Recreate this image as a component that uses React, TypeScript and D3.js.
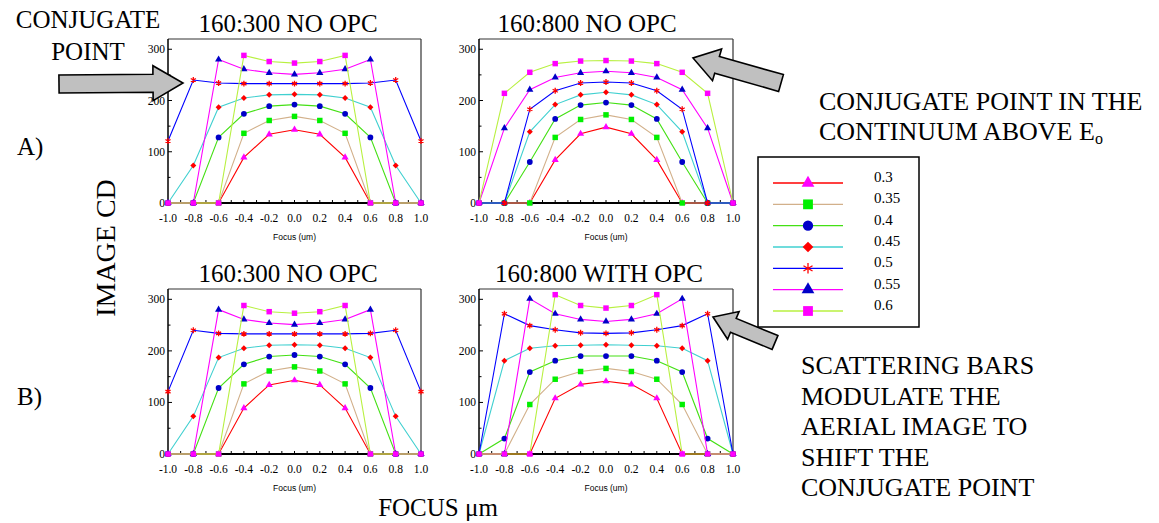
import React from "react";
import * as d3 from "d3";

// ---------- data ----------
const FOCUS = [-1.0, -0.8, -0.6, -0.4, -0.2, 0.0, 0.2, 0.4, 0.6, 0.8, 1.0];
const SERIES_LABELS = ["0.3", "0.35", "0.4", "0.45", "0.5", "0.55", "0.6"];
const X_TICK_LABELS = ["-1.0", "-0.8", "-0.6", "-0.4", "-0.2", "0.0", "0.2", "0.4", "0.6", "0.8", "1.0"];
const Y_TICKS = [0, 100, 200, 300];

// 160:300 NO OPC
const p300_03 = [0, 0, 0, 89, 134, 143, 134, 89, 0, 0, 0];
const p300_035 = [0, 0, 0, 136, 161, 169, 161, 136, 0, 0, 0];
const p300_04 = [0, 0, 128, 174, 189, 192, 189, 174, 128, 0, 0];
const p300_045 = [0, 73, 187, 205, 211, 212, 211, 205, 187, 73, 0];
const p300_05 = [121, 240, 234, 233, 233, 233, 233, 233, 234, 240, 121];
const p300_055 = [0, 0, 280, 261, 254, 251, 254, 261, 280, 0, 0];
const p300_06 = [0, 0, 0, 288, 276, 273, 276, 288, 0, 0, 0];

// 160:800 NO OPC
const p800_03 = [0, 0, 0, 84, 135, 148, 135, 84, 0, 0, 0];
const p800_035 = [0, 0, 0, 128, 163, 172, 163, 128, 0, 0, 0];
const p800_04 = [0, 0, 80, 164, 191, 196, 191, 164, 80, 0, 0];
const p800_045 = [0, 0, 139, 192, 211, 216, 211, 192, 139, 0, 0];
const p800_05 = [0, 0, 183, 219, 234, 236, 234, 219, 183, 0, 0];
const p800_055 = [0, 146, 221, 245, 254, 257, 254, 245, 221, 146, 0];
const p800_06 = [0, 214, 255, 272, 277, 278, 277, 272, 255, 214, 0];

// 160:800 WITH OPC
const opc_03 = [0, 0, 0, 108, 135, 141, 135, 108, 0, 0, 0];
const opc_035 = [0, 0, 96, 145, 160, 166, 160, 145, 96, 0, 0];
const opc_04 = [0, 30, 159, 181, 190, 190, 190, 181, 159, 30, 0];
const opc_045 = [0, 181, 205, 210, 211, 212, 211, 210, 205, 181, 0];
const opc_05 = [0, 272, 249, 241, 235, 234, 235, 241, 249, 272, 0];
const opc_055 = [0, 0, 301, 272, 261, 257, 261, 272, 301, 0, 0];
const opc_06 = [0, 0, 0, 309, 288, 283, 288, 309, 0, 0, 0];

const P300 = [p300_03, p300_035, p300_04, p300_045, p300_05, p300_055, p300_06];
const P800 = [p800_03, p800_035, p800_04, p800_045, p800_05, p800_055, p800_06];
const POPC = [opc_03, opc_035, opc_04, opc_045, opc_05, opc_055, opc_06];

// ---------- styles ----------
const LINE_COLORS = ["#ff0000", "#d2b08a", "#44e014", "#40d0d0", "#0000ff", "#ff00ff", "#b8f040"];
const MARK_COLORS = ["#ff00ff", "#00f000", "#0000c8", "#ff0000", "#ff0000", "#0000c8", "#ff00ff"];
const MARK_TYPES = ["triangle", "square", "circle", "diamond", "asterisk", "triangle", "square"];

const FONT = "'Liberation Serif', 'Times New Roman', serif";

function markerPath(type: string, scale: number) {
  let sym: any = d3.symbolSquare;
  let size = 30;
  if (type === "triangle") { sym = d3.symbolTriangle; size = 22; }
  if (type === "square") { sym = d3.symbolSquare; size = 30; }
  if (type === "circle") { sym = d3.symbolCircle; size = 26; }
  if (type === "diamond") { sym = d3.symbolSquare; size = 18; }
  if (type === "asterisk") { sym = d3.symbolAsterisk; size = 24; }
  return d3.symbol().type(sym).size(size * scale)() as string;
}

function Marker({ type, color, x, y, scale = 1 }: any) {
  const d = markerPath(type, scale);
  if (type === "asterisk") {
    return <path d={d} transform={`translate(${x},${y})`} fill="none" stroke={color} strokeWidth={1.3} />;
  }
  const rot = type === "diamond" ? " rotate(45)" : "";
  return <path d={d} transform={`translate(${x},${y})${rot}`} fill={color} />;
}

function Panel({ left, right, top, bottom, data, title, titleX }: any) {
  const x = d3.scaleLinear().domain([-1, 1]).range([left, right]);
  const y = d3.scaleLinear().domain([0, 320]).range([bottom, top]);
  const line = d3.line<number>().x((_, i) => x(FOCUS[i])).y((v) => y(v));
  const minorX = d3.range(-10, 11).map((i) => i / 10);
  const minorY = [50, 150, 250];
  return (
    <g>
      <text x={titleX} y={top - 7} textAnchor="middle" fontFamily={FONT} fontSize={25}>{title}</text>
      {/* frame */}
      <line x1={left} x2={right} y1={top} y2={top} stroke="#333" strokeWidth={1.2} />
      <line x1={right} x2={right} y1={top} y2={bottom} stroke="#333" strokeWidth={1.2} />
      {/* ticks */}
      {minorX.map((t, i) => (
        <line key={"xt" + i} x1={x(t)} x2={x(t)} y1={bottom} y2={bottom - 3} stroke="#000" strokeWidth={1} />
      ))}
      {Y_TICKS.map((t) => (
        <line key={"yt" + t} x1={left} x2={left + 4} y1={y(t)} y2={y(t)} stroke="#000" strokeWidth={1} />
      ))}
      {minorY.map((t) => (
        <line key={"ym" + t} x1={left} x2={left + 2.5} y1={y(t)} y2={y(t)} stroke="#000" strokeWidth={1} />
      ))}
      {Y_TICKS.map((t) => (
        <text key={"yl" + t} x={left - 3} y={y(t) + 4} textAnchor="end" fontFamily={FONT} fontSize={11.5}>{t}</text>
      ))}
      {X_TICK_LABELS.map((l, i) => (
        <text key={"xl" + i} x={x(FOCUS[i])} y={bottom + 19} textAnchor="middle" fontFamily={FONT} fontSize={11.5}>{l}</text>
      ))}
      <text x={(left + right) / 2} y={bottom + 37} textAnchor="middle" fontFamily="'Liberation Sans', Arial, sans-serif" fontSize={8.5}>Focus (um)</text>
      {/* axes */}
      <line x1={left} x2={right} y1={bottom} y2={bottom} stroke="#000" strokeWidth={1.8} />
      <line x1={left} x2={left} y1={top} y2={bottom} stroke="#000" strokeWidth={1.5} />
      {/* series */}
      {data.map((vals: number[], s: number) => (
        <g key={"s" + s}>
          <path d={line(vals) as string} fill="none" stroke={LINE_COLORS[s]} strokeWidth={1.1} />
          {vals.map((v, i) => (
            <Marker key={i} type={MARK_TYPES[s]} color={MARK_COLORS[s]} x={x(FOCUS[i])} y={y(v)} />
          ))}
        </g>
      ))}
    </g>
  );
}

function arrowPath(tail: number[], tip: number[], bw: number, hw: number, hl: number) {
  const dx = tip[0] - tail[0];
  const dy = tip[1] - tail[1];
  const len = Math.hypot(dx, dy);
  const ux = dx / len, uy = dy / len;
  const nx = -uy, ny = ux;
  const bx = tip[0] - ux * hl, by = tip[1] - uy * hl;
  const pts = [
    [tail[0] + nx * bw, tail[1] + ny * bw],
    [bx + nx * bw, by + ny * bw],
    [bx + nx * hw, by + ny * hw],
    [tip[0], tip[1]],
    [bx - nx * hw, by - ny * hw],
    [bx - nx * bw, by - ny * bw],
    [tail[0] - nx * bw, tail[1] - ny * bw],
  ];
  return "M" + pts.map((p) => p[0].toFixed(1) + "," + p[1].toFixed(1)).join("L") + "Z";
}

function Legend() {
  const x0 = 758, y0 = 157, w = 161, h = 170;
  const rowY = d3.scaleLinear().domain([0, 6]).range([183, 311]);
  return (
    <g>
      <rect x={x0} y={y0} width={w} height={h} fill="#fff" stroke="#000" strokeWidth={1.5} />
      {SERIES_LABELS.map((l, i) => (
        <g key={l}>
          <line x1={773} x2={843} y1={rowY(i)} y2={rowY(i)} stroke={LINE_COLORS[i]} strokeWidth={1.3} />
          <Marker type={MARK_TYPES[i]} color={MARK_COLORS[i]} x={808} y={rowY(i)} scale={3.2} />
          <text x={874} y={rowY(i) - 1} fontFamily={FONT} fontSize={15}>{l}</text>
        </g>
      ))}
    </g>
  );
}

export default function App() {
  const arrowStyle = { fill: "#c0c0c0", stroke: "#000", strokeWidth: 1.6 };
  return (
    <svg width={1159} height={523} style={{ position: "absolute", left: 0, top: 0, background: "#fff" }}>
      <rect x={0} y={0} width={1159} height={523} fill="#fff" />
      <Panel left={168} right={421} top={39} bottom={203} data={P300} title="160:300 NO OPC" titleX={288} />
      <Panel left={479} right={733} top={39} bottom={203} data={P800} title="160:800 NO OPC" titleX={587} />
      <Panel left={168} right={421} top={289} bottom={454} data={P300} title="160:300 NO OPC" titleX={288} />
      <Panel left={479} right={733} top={289} bottom={454} data={POPC} title="160:800 WITH OPC" titleX={599} />

      <path d={arrowPath([775, 342.5], [713, 317], 7.5, 15, 22)} {...arrowStyle} />
      <Legend />
      <path d={arrowPath([59, 84], [183, 83], 9, 17.5, 30)} {...arrowStyle} />
      <path d={arrowPath([781, 83], [693, 58], 8.7, 16.5, 25)} {...arrowStyle} />

      <text x={88} y={28} textAnchor="middle" fontFamily={FONT} fontSize={25}>CONJUGATE</text>
      <text x={88} y={60} textAnchor="middle" fontFamily={FONT} fontSize={25}>POINT</text>
      <text x={17} y={155} fontFamily={FONT} fontSize={25}>A)</text>
      <text x={17} y={405} fontFamily={FONT} fontSize={25}>B)</text>
      <text transform="translate(115,248) rotate(-90)" textAnchor="middle" fontFamily={FONT} fontSize={28}>IMAGE CD</text>
      <text x={438} y={516} textAnchor="middle" fontFamily={FONT} fontSize={25}>FOCUS μm</text>

      <text x={819} y={110} fontFamily={FONT} fontSize={26}>CONJUGATE POINT IN THE</text>
      <text x={819} y={140} fontFamily={FONT} fontSize={26}>
        CONTINUUM ABOVE E<tspan fontSize={16} dy={4}>o</tspan>
      </text>

      {["SCATTERING BARS", "MODULATE THE", "AERIAL IMAGE TO", "SHIFT THE", "CONJUGATE POINT"].map((t, i) => (
        <text key={t} x={801} y={374 + i * 30.5} fontFamily={FONT} fontSize={26}>{t}</text>
      ))}
    </svg>
  );
}
